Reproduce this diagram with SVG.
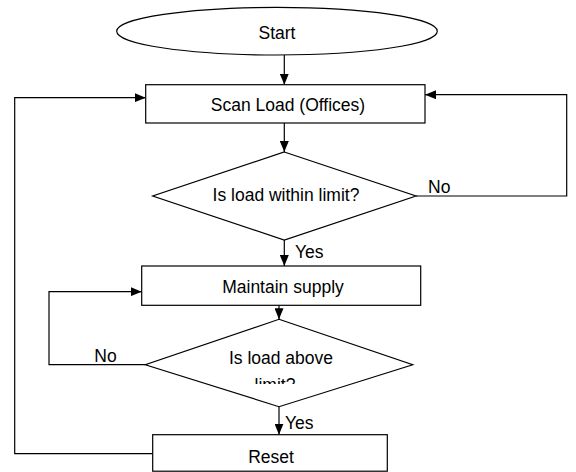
<svg xmlns="http://www.w3.org/2000/svg" width="576" height="472" viewBox="0 0 576 472">
  <style>
    .shape { fill: #ffffff; stroke: #000000; stroke-width: 1.2; }
    .line { fill: none; stroke: #000000; stroke-width: 1.2; }
    .arrow { marker-end: url(#ah); }
    text { font-family: "Liberation Sans", Arial, sans-serif; font-size: 17.5px; fill: #000000; }
    .c { text-anchor: middle; }
  </style>
  <defs>
    <marker id="ah" markerUnits="userSpaceOnUse" markerWidth="11" markerHeight="9" refX="11" refY="4.5" orient="auto">
      <path d="M0,0 L11,4.5 L0,9 z" fill="#000000"/>
    </marker>
    <clipPath id="clipD2">
      <rect x="140" y="330" width="280" height="54"/>
    </clipPath>
  </defs>
  <rect width="576" height="472" fill="#ffffff"/>

  <g id="connectors">
    <path class="line arrow" d="M284.3,55 L284.3,84.7"/>
    <path class="line arrow" d="M284.3,123 L284.3,152"/>
    <path class="line arrow" d="M416,196 L566.7,196 L566.7,94.7 L425,94.7"/>
    <path class="line arrow" d="M284.3,240 L284.3,266"/>
    <path class="line arrow" d="M279,305.3 L279,319.3"/>
    <path class="line arrow" d="M145.3,364.7 L49,364.7 L49,291.7 L141.7,291.7"/>
    <path class="line arrow" d="M279,406.7 L279,434.7"/>
    <path class="line arrow" d="M152.7,453.7 L14.7,453.7 L14.7,97.7 L145.7,97.7"/>
    <text x="428" y="192.7">No</text>
    <text x="295" y="258.3">Yes</text>
    <text x="94.3" y="361.7">No</text>
    <text x="285" y="429.3">Yes</text>
  </g>

  <g id="start">
    <ellipse class="shape" cx="277" cy="31.2" rx="160.3" ry="23.8"/>
    <text class="c" x="277" y="38.5">Start</text>
  </g>

  <g id="scan-load">
    <rect class="shape" x="145.7" y="84.7" width="279.3" height="38.3"/>
    <text class="c" x="288" y="111">Scan Load (Offices)</text>
  </g>

  <g id="decision-within-limit">
    <polygon class="shape" points="284.3,152 416,196 284.3,240 152.7,196"/>
    <text class="c" x="286" y="200.7">Is load within limit?</text>
  </g>

  <g id="maintain-supply">
    <rect class="shape" x="141.7" y="266" width="279" height="39.3"/>
    <text class="c" x="283" y="293.3">Maintain supply</text>
  </g>

  <g id="decision-above-limit">
    <polygon class="shape" points="279,319.3 412.7,364.7 279,406.7 145.3,364.7"/>
    <g clip-path="url(#clipD2)">
      <text class="c" x="281" y="364">Is load above</text>
      <text class="c" x="275" y="390.5">limit?</text>
    </g>
  </g>

  <g id="reset">
    <rect class="shape" x="152.7" y="434.7" width="234.6" height="36.5"/>
    <text class="c" x="271" y="462.7">Reset</text>
  </g>
</svg>
